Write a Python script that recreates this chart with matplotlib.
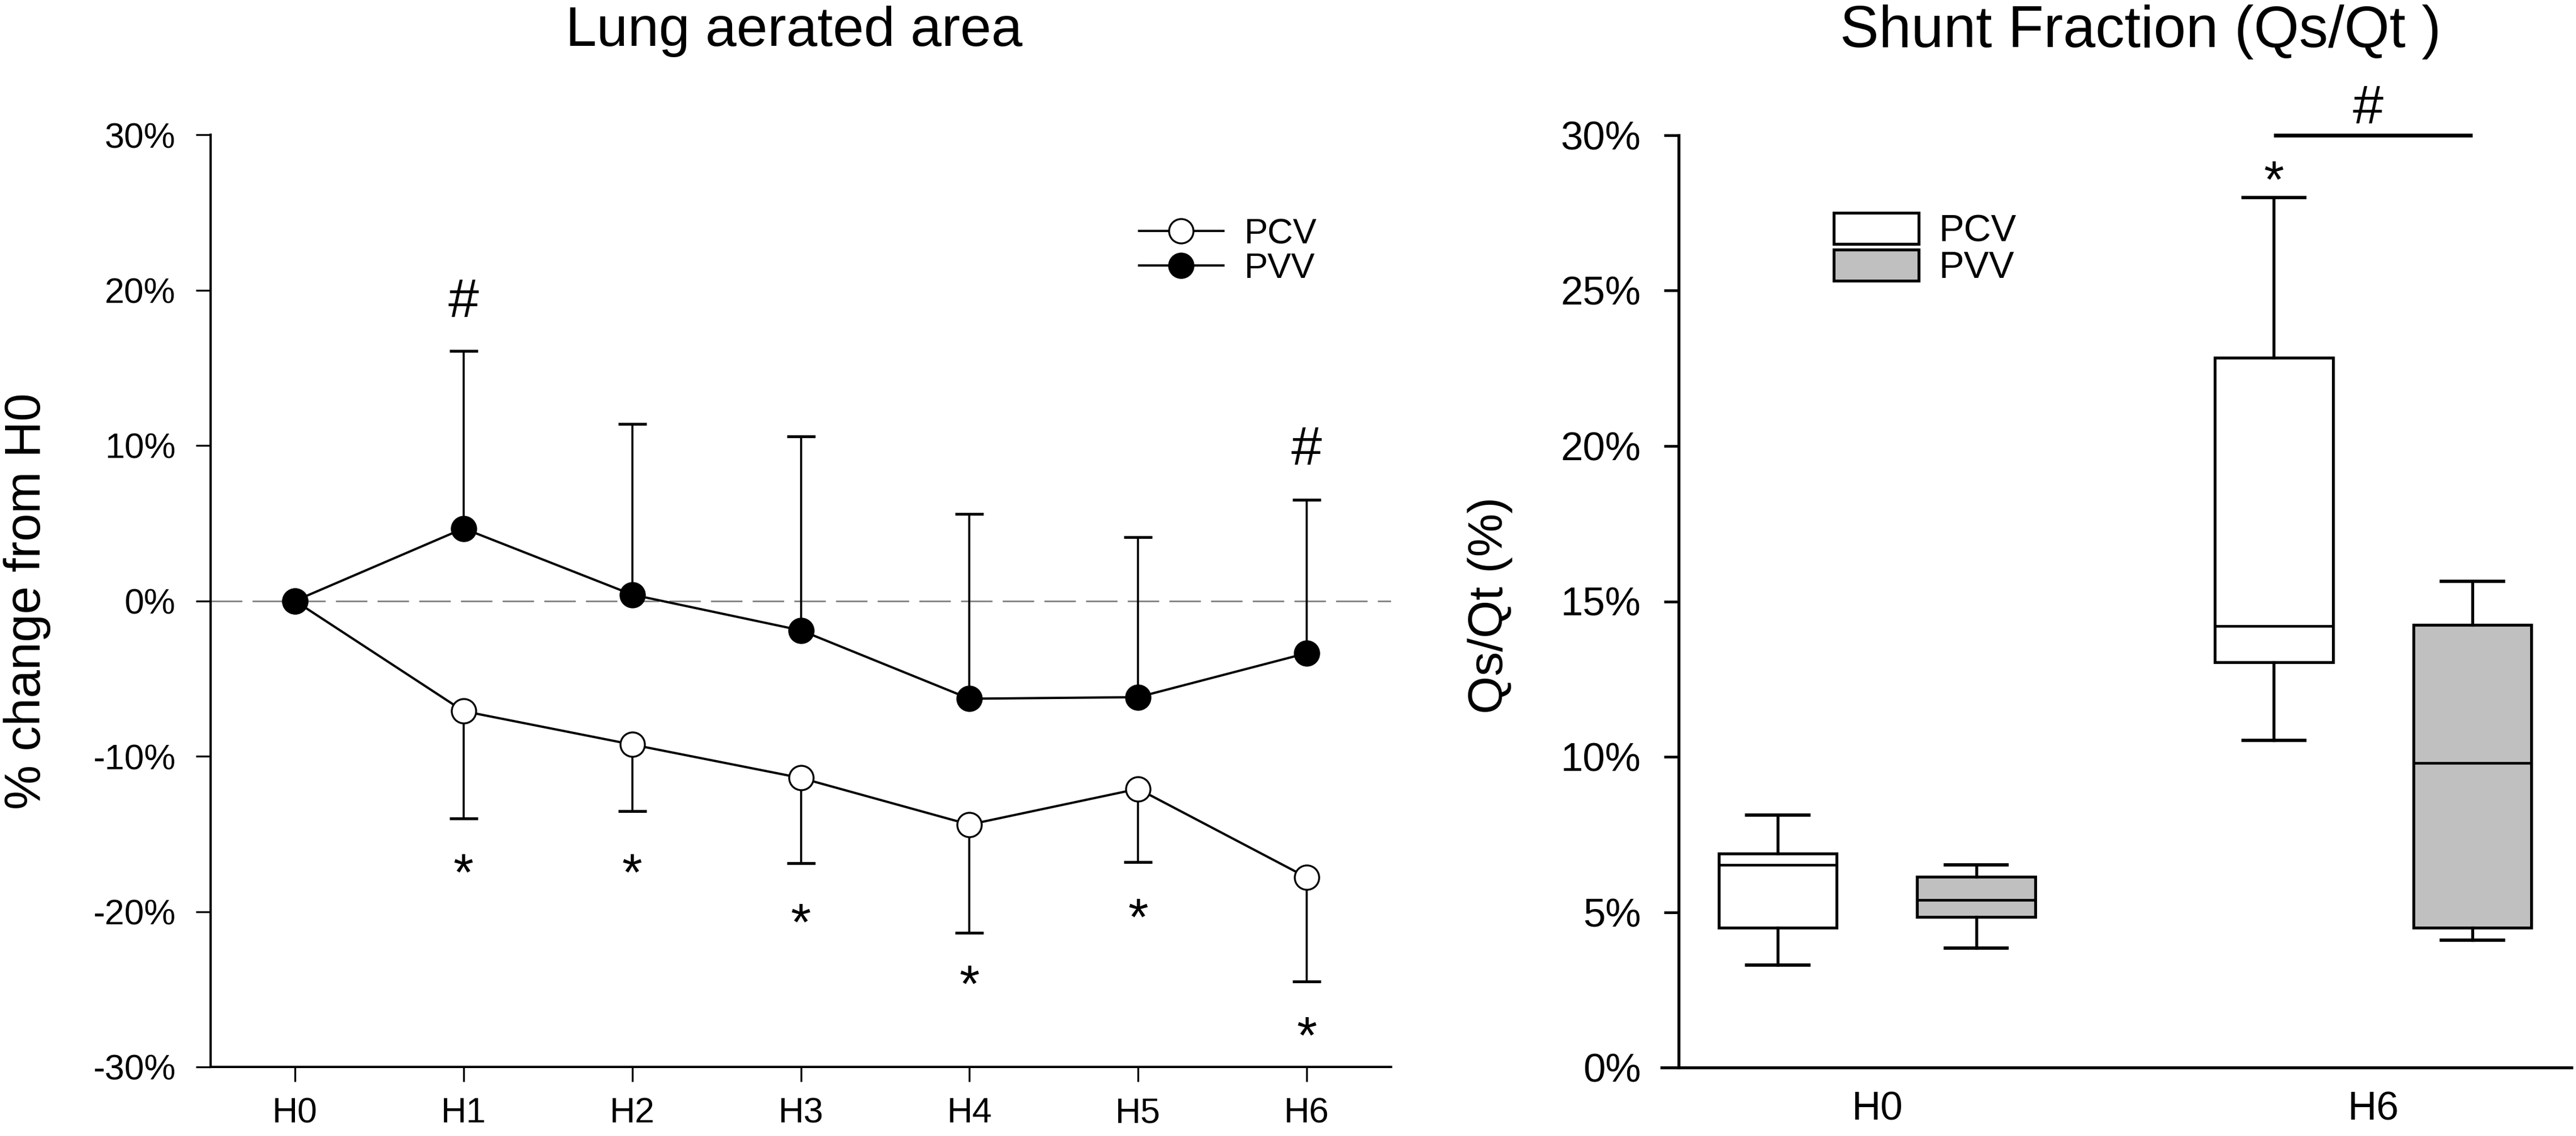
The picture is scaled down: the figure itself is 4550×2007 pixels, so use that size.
import numpy as np
import matplotlib
matplotlib.use("Agg")
import matplotlib.pyplot as plt
from matplotlib.patches import Patch
from matplotlib.lines import Line2D

plt.rcParams['font.family'] = ['Liberation Sans', 'DejaVu Sans']

# ---------------- data: left panel ----------------
hours = ["H0", "H1", "H2", "H3", "H4", "H5", "H6"]
pcv_mean = [0.0, -7.1, -9.25, -11.4, -14.4, -12.1, -17.8]
pcv_lower = [np.nan, -14.0, -13.55, -16.9, -21.35, -16.8, -24.5]
pvv_mean = [0.0, 4.66, 0.4, -1.9, -6.3, -6.2, -3.37]
pvv_upper = [np.nan, 16.1, 11.4, 10.6, 5.6, 4.1, 6.5]
star_idx = [1, 2, 3, 4, 5, 6]
star_y = [-16.7, -16.7, -19.9, -23.9, -19.6, -27.2]
hash_idx = [1, 6]
hash_y = [19.5, 10.0]
left_yticks = [-30, -20, -10, 0, 10, 20, 30]

# ---------------- data: right panel ----------------
groups = ["H0", "H6"]
# (whislo, q1, med, q3, whishi)
pcv_box = [(3.29, 4.50, 6.53, 6.88, 8.12), (10.52, 13.04, 14.2, 22.84, 28.0)]
pvv_box = [(3.85, 4.85, 5.39, 6.13, 6.53), (4.1, 4.50, 9.80, 14.25, 15.65)]
right_yticks = [0, 5, 10, 15, 20, 25, 30]
sig_bar_y = 30.0
sig_hash_y = 31.0
sig_star_y = 28.96

W, H = 4550, 2007
DPI = 100
fig = plt.figure(figsize=(W / DPI, H / DPI), dpi=DPI)

# ---------------- left panel ----------------
axL = fig.add_axes([372 / W, 1 - 1885 / H, (2457 - 372) / W, (1885 - 238) / H])
x = np.arange(len(hours))
pcv_mean_a = np.array(pcv_mean)
pvv_mean_a = np.array(pvv_mean)

axL.axhline(0, color='#808080', lw=2.0, dashes=(20, 6.5), zorder=1)

# error bars (one-sided)
axL.vlines(x, pcv_lower, pcv_mean_a, color='black', lw=2.6, zorder=2)
axL.plot(x, pcv_lower, ls='none', marker='_', ms=36, mew=3.6, color='black', zorder=2)
axL.vlines(x, pvv_mean_a, pvv_upper, color='black', lw=2.6, zorder=2)
axL.plot(x, pvv_upper, ls='none', marker='_', ms=36, mew=3.6, color='black', zorder=2)

axL.plot(x, pcv_mean_a, color='black', lw=2.9, marker='o', ms=31, mfc='white',
         mec='black', mew=2.4, zorder=3, label='PCV')
axL.plot(x, pvv_mean_a, color='black', lw=2.9, marker='o', ms=31, mfc='black',
         mec='black', mew=2.4, zorder=4, label='PVV')

star_fs = 66
for i, yy in zip(star_idx, star_y):
    axL.annotate('*', xy=(x[i], yy), xytext=(0, -0.57 * star_fs), textcoords='offset points',
                 ha='center', va='baseline', fontsize=star_fs)
hash_fs = 70
for i, yy in zip(hash_idx, hash_y):
    axL.annotate('#', xy=(x[i], yy), xytext=(0, -0.35 * hash_fs), textcoords='offset points',
                 ha='center', va='baseline', fontsize=hash_fs)

axL.set_xlim(-0.5, 6.5)
axL.set_ylim(-30, 30)
axL.set_xticks(x)
axL.set_xticklabels(hours)
axL.set_yticks(left_yticks)
axL.set_yticklabels([f"{v}%" for v in left_yticks])
for s in ['top', 'right']:
    axL.spines[s].set_visible(False)
for s in ['left', 'bottom']:
    axL.spines[s].set_linewidth(2.9)
axL.tick_params(axis='both', direction='out', length=18.5, width=2.4, labelsize=45)
axL.tick_params(axis='y', pad=26)
axL.tick_params(axis='x', pad=19)

handles = [Line2D([], [], color='black', lw=2.9, marker='o', ms=31, mfc='white', mec='black', mew=2.4),
           Line2D([], [], color='black', lw=2.9, marker='o', ms=31, mfc='black', mec='black', mew=2.4)]
axL.legend(handles, ['PCV', 'PVV'], loc='upper left', bbox_to_anchor=(0.7866, 0.9113),
           frameon=False, fontsize=45, handlelength=2.38, handletextpad=0.59,
           labelspacing=0.03, borderpad=0, borderaxespad=0, numpoints=1)

fig.text(1402 / W, 1 - 81 / H, 'Lung aerated area', ha='center', va='baseline', fontsize=71)
fig.text(71 / W, 1 - 1062 / H, '% change from H0', rotation=90, rotation_mode='anchor',
         ha='center', va='baseline', fontsize=64)

# ---------------- right panel ----------------
axR = fig.add_axes([2965 / W, 1 - 1886 / H, (4542 - 2965) / W, (1886 - 239) / H])
gx = np.arange(len(groups))
off = 0.2
bw = 0.238
stats = []
pos = []
for gi in range(len(groups)):
    for b, p in ((pcv_box[gi], gx[gi] - off), (pvv_box[gi], gx[gi] + off)):
        stats.append(dict(whislo=b[0], q1=b[1], med=b[2], q3=b[3], whishi=b[4], fliers=[]))
        pos.append(p)
colors = ['white', '#c0c0c0'] * len(groups)
bp = axR.bxp(stats, positions=pos, widths=bw, capwidths=0.125, patch_artist=True,
             showfliers=False,
             boxprops=dict(linewidth=3.7, edgecolor='black'),
             medianprops=dict(linewidth=3.3, color='black'),
             whiskerprops=dict(linewidth=3.8, color='black'),
             capprops=dict(linewidth=4.2, color='black'))
for patch, c in zip(bp['boxes'], colors):
    patch.set_facecolor(c)

axR.plot([gx[1] - off, gx[1] + off], [sig_bar_y, sig_bar_y], color='black', lw=4.8,
         clip_on=False, solid_capstyle='butt')
axR.annotate('#', xy=(gx[1] - 0.01, sig_hash_y), xytext=(0, -0.35 * hash_fs),
             textcoords='offset points', ha='center', va='baseline', fontsize=hash_fs,
             annotation_clip=False)
axR.annotate('*', xy=(gx[1] - off, sig_star_y), xytext=(0, -0.57 * star_fs),
             textcoords='offset points', ha='center', va='baseline', fontsize=star_fs,
             annotation_clip=False)

axR.set_xlim(-0.4, 1.4)
axR.set_ylim(0, 30)
axR.set_xticks(gx)
axR.set_xticklabels(groups)
axR.set_yticks(right_yticks)
axR.set_yticklabels([f"{v}%" for v in right_yticks])
for s in ['top', 'right']:
    axR.spines[s].set_visible(False)
for s in ['left', 'bottom']:
    axR.spines[s].set_linewidth(3.8)
axR.spines['bottom'].set_bounds(-0.434, 1.4)
axR.tick_params(axis='y', direction='out', length=19, width=3.4, labelsize=51, pad=29)
axR.tick_params(axis='x', length=0, labelsize=51, pad=30)

rh = [Patch(facecolor='white', edgecolor='black', lw=3.7),
      Patch(facecolor='#c0c0c0', edgecolor='black', lw=3.7)]
axR.legend(rh, ['PCV', 'PVV'], loc='upper left', bbox_to_anchor=(0.1737, 0.9168),
           frameon=False, fontsize=48, handlelength=2.25, handleheight=0.9,
           handletextpad=0.54, labelspacing=0.0, borderpad=0, borderaxespad=0)

fig.text(3781 / W, 1 - 83 / H, 'Shunt Fraction (Qs/Qt )', ha='center', va='baseline', fontsize=74)
fig.text(2654 / W, 1 - 1069 / H, 'Qs/Qt (%)', rotation=90, rotation_mode='anchor',
         ha='center', va='baseline', fontsize=62)

fig.savefig('out.png', dpi=DPI)
